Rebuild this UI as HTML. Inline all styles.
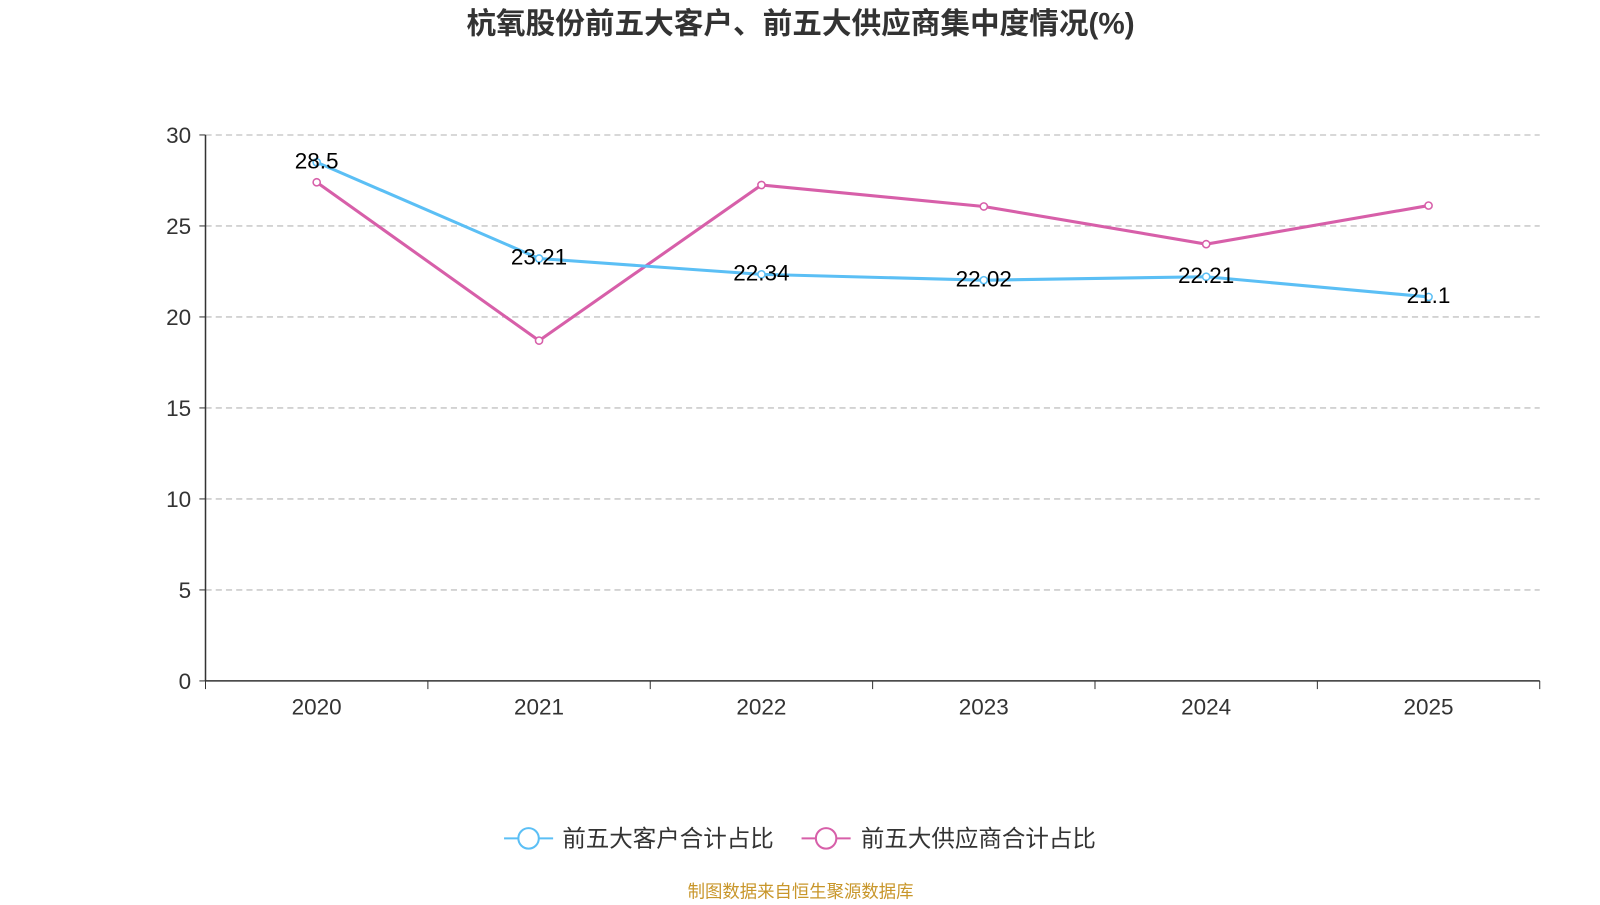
<!DOCTYPE html>
<html><head><meta charset="utf-8"><style>
body{margin:0;background:#fff;width:1600px;height:900px;overflow:hidden}
svg text{font-family:"Liberation Sans","Noto Sans CJK SC",sans-serif}
</style></head><body>
<svg id="c" width="1600" height="900">
<g transform="scale(1.0224)">
<text x="783" y="33" text-anchor="middle" font-size="29" font-weight="bold" fill="#333">杭氧股份前五大客户、前五大供应商集中度情况(%)</text>
<g id="grid"></g><g id="axes"></g><g id="series"></g>
<g>
<g><line x1="493" y1="820" x2="541" y2="820" stroke="#5bbff5" stroke-width="2"/><circle cx="517" cy="820" r="10" fill="#fff" stroke="#5bbff5" stroke-width="2"/><text x="550" y="828" font-size="23" fill="#333">前五大客户合计占比</text></g>
<g><line x1="784" y1="820" x2="832" y2="820" stroke="#d75fa9" stroke-width="2"/><circle cx="808" cy="820" r="10" fill="#fff" stroke="#d75fa9" stroke-width="2"/><text x="842" y="828" font-size="23" fill="#333">前五大供应商合计占比</text></g>
</g>
<text x="783" y="878" text-anchor="middle" font-size="17" fill="#c8962a">制图数据来自恒生聚源数据库</text>
</g>
</svg>
<script>
const categories=["2020","2021","2022","2023","2024","2025"];
const customers=[28.5,23.21,22.34,22.02,22.21,21.1];
const suppliers=[27.4,18.7,27.25,26.07,24.0,26.12];
const yTicks=[0,5,10,15,20,25,30];
const NS="http://www.w3.org/2000/svg";
const x0=201,x1=1506,y0=666,y1=132;
const band=(x1-x0)/categories.length;
const xs=i=>x0+band*(i+0.5);
const ys=v=>y0-(v/30)*(y0-y1);
function mk(t,a,p){const e=document.createElementNS(NS,t);for(const k in a)e.setAttribute(k,a[k]);p.appendChild(e);return e;}
const g=document.getElementById('grid'),ax=document.getElementById('axes'),s=document.getElementById('series');
yTicks.forEach(v=>{
 if(v>0){const l=mk('line',{x1:x0,x2:x1,y1:ys(v),y2:ys(v),stroke:'#ccc','stroke-dasharray':'6,4','stroke-width':1.5},g);
 
 }
 mk('line',{x1:x0-6,x2:x0,y1:ys(v),y2:ys(v),stroke:'#333'},ax);
 const t=mk('text',{x:x0-14,y:ys(v)+8,'text-anchor':'end','font-size':22,fill:'#333'},ax);t.textContent=v;
 
 
});
mk('line',{x1:x0,x2:x0,y1:y1,y2:y0,stroke:'#333','stroke-width':1.5},ax);
mk('line',{x1:x0,x2:x1,y1:y0,y2:y0,stroke:'#333','stroke-width':1.5},ax);
for(let i=0;i<=categories.length;i++)mk('line',{x1:x0+band*i,x2:x0+band*i,y1:y0,y2:y0+8,stroke:'#333'},ax);
categories.forEach((c,i)=>{const t=mk('text',{x:xs(i),y:699,'text-anchor':'middle','font-size':22,fill:'#333'},ax);t.textContent=c;
 
 });
function line(vals,col,name,labels){
 const p=mk('polyline',{points:vals.map((v,i)=>xs(i)+','+ys(v)).join(' '),fill:'none',stroke:col,'stroke-width':3},s);
 
 
 vals.forEach((v,i)=>{const c=mk('circle',{cx:xs(i),cy:ys(v),r:3.5,fill:'#fff',stroke:col,'stroke-width':1.5},s);
  
  
  if(labels){const t=mk('text',{x:xs(i),y:ys(v)+6,'text-anchor':'middle','font-size':22,fill:'#000'},s);t.textContent=v;
  
  }});
}
line(suppliers,'#d75fa9','suppliers',false);
line(customers,'#5bbff5','customers',true);
</script>
</body></html>
